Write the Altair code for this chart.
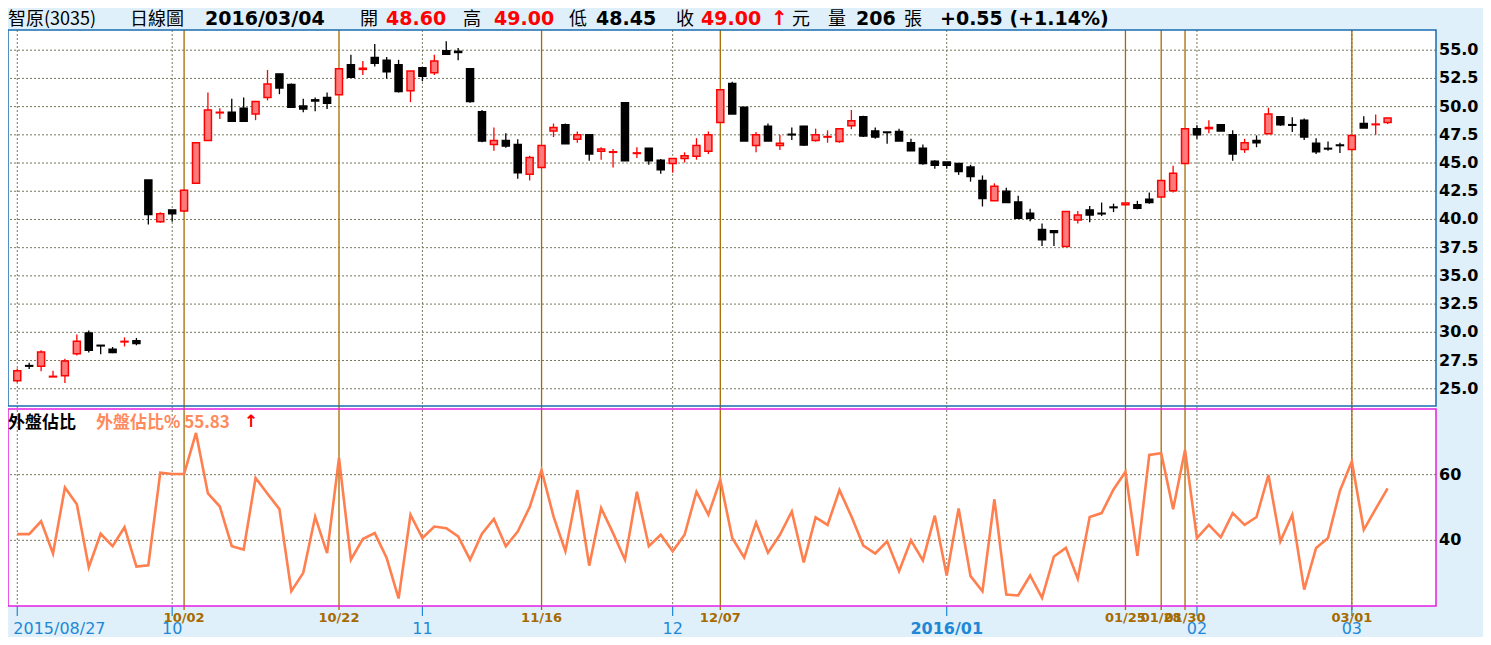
import altair as alt
import pandas as pd

# ---------------- data ----------------
opens = [25.70, 27.05, 27.00, 26.05, 26.15, 28.10, 29.95, 28.85, 28.50, 29.15,
         29.25, 43.50, 39.80, 40.85, 40.75, 43.20, 47.00, 49.45, 49.50, 49.85,
         49.35, 50.80, 52.90, 51.95, 50.05, 50.60, 50.80, 51.05, 53.70, 53.30,
         54.35, 54.10, 53.70, 51.40, 53.45, 53.00, 54.95, 54.90, 53.35, 49.55,
         46.65, 47.00, 46.65, 44.00, 44.60, 47.85, 48.40, 47.10, 47.50, 46.05,
         45.95, 50.35, 45.85, 46.30, 45.25, 44.95, 45.40, 45.60, 46.05, 48.60,
         52.05, 49.95, 46.55, 48.25, 46.55, 47.55, 48.25, 47.00, 47.30, 46.90,
         48.30, 49.10, 47.85, 47.75, 47.80, 46.80, 46.30, 45.15, 45.10, 44.95,
         44.65, 43.45, 41.65, 42.50, 41.55, 40.55, 39.10, 39.00, 37.60, 39.95,
         40.85, 40.55, 41.10, 41.30, 41.30, 41.80, 42.00, 42.55, 44.95, 48.05,
         48.05, 48.40, 47.50, 46.20, 47.00, 47.60, 49.10, 48.40, 48.80, 46.75,
         46.30, 46.60, 46.20, 48.50, 48.40, 48.60]
highs = [26.80, 27.30, 28.40, 26.60, 27.65, 29.80, 30.15, 28.85, 28.70, 29.55,
         29.50, 43.50, 40.65, 40.85, 42.65, 46.80, 51.25, 49.85, 50.70, 50.80,
         50.45, 53.25, 52.90, 52.05, 50.70, 50.80, 51.25, 53.35, 54.60, 54.05,
         55.55, 54.40, 54.15, 53.15, 53.45, 54.60, 55.80, 55.20, 53.35, 49.70,
         48.15, 47.65, 47.10, 45.65, 46.55, 48.50, 48.50, 47.80, 47.50, 46.40,
         46.25, 50.35, 46.40, 46.30, 45.35, 45.40, 45.95, 47.20, 47.80, 51.50,
         52.20, 49.95, 47.75, 48.50, 47.50, 48.15, 48.30, 48.05, 47.90, 48.05,
         49.70, 49.20, 48.15, 47.75, 48.05, 47.15, 46.65, 45.25, 45.10, 44.95,
         44.85, 43.90, 43.20, 42.80, 42.10, 40.95, 39.65, 39.00, 40.70, 40.75,
         41.20, 41.50, 41.40, 41.45, 41.65, 42.40, 43.45, 44.75, 48.05, 48.35,
         48.80, 48.40, 47.90, 47.15, 47.45, 49.90, 49.10, 49.05, 48.95, 47.20,
         46.90, 46.80, 47.45, 49.15, 49.30, 49.00]
lows = [25.55, 26.75, 26.55, 26.05, 25.50, 27.95, 28.20, 28.05, 28.15, 28.75,
        28.85, 39.55, 39.70, 39.80, 40.70, 43.20, 47.00, 48.90, 48.70, 48.70,
        48.80, 50.55, 51.10, 49.95, 49.50, 49.60, 49.80, 51.05, 52.60, 52.80,
        53.55, 52.50, 51.25, 50.40, 52.25, 52.80, 54.65, 54.10, 50.35, 46.85,
        46.10, 46.35, 43.60, 43.45, 44.60, 47.30, 46.70, 46.80, 45.20, 45.30,
        44.60, 45.20, 45.45, 44.85, 44.05, 44.15, 45.05, 45.30, 45.80, 48.60,
        49.35, 46.95, 45.95, 46.95, 46.15, 47.05, 46.50, 46.90, 46.80, 46.80,
        48.00, 47.30, 47.15, 46.70, 46.95, 46.10, 44.85, 44.50, 44.50, 43.95,
        43.35, 41.15, 41.65, 41.50, 40.10, 39.85, 37.65, 37.65, 37.60, 39.65,
        39.75, 40.30, 40.65, 41.30, 40.90, 41.40, 42.00, 42.40, 44.95, 47.15,
        47.65, 47.85, 45.20, 45.90, 46.40, 47.60, 48.30, 47.75, 47.05, 45.80,
        46.10, 45.90, 46.20, 48.10, 47.50, 48.45]
closes = [26.60, 27.00, 28.25, 26.10, 27.45, 29.20, 28.40, 28.80, 28.20, 29.20,
          29.00, 40.45, 40.50, 40.50, 42.60, 46.80, 49.70, 49.50, 48.70, 48.70,
          50.45, 52.00, 51.65, 49.95, 49.80, 50.50, 50.30, 53.35, 52.60, 53.40,
          53.85, 53.10, 51.35, 53.15, 52.70, 54.05, 54.65, 54.80, 50.45, 46.95,
          47.00, 46.50, 44.15, 45.50, 46.55, 48.15, 46.70, 47.50, 45.80, 46.25,
          46.00, 45.20, 45.90, 45.20, 44.40, 45.40, 45.65, 46.55, 47.50, 51.50,
          49.35, 46.95, 47.50, 46.95, 46.75, 47.50, 46.60, 47.50, 47.35, 48.05,
          48.75, 47.40, 47.30, 47.70, 46.95, 46.10, 44.95, 44.80, 44.80, 44.25,
          43.80, 41.85, 42.95, 41.50, 40.10, 40.10, 38.20, 38.85, 40.70, 40.40,
          40.40, 40.50, 41.05, 41.45, 41.00, 41.50, 43.45, 44.10, 48.05, 47.50,
          48.15, 47.85, 45.80, 46.80, 46.80, 49.35, 48.40, 48.35, 47.30, 46.00,
          46.25, 46.55, 47.45, 48.10, 48.45, 49.00]
outer_ratio = [41.9, 41.9, 45.8, 36.0, 56.1, 51.0, 31.8, 42.0, 38.2, 44.0,
               32.0, 32.4, 60.6, 60.2, 60.2, 72.7, 54.3, 50.3, 38.2, 37.2,
               59.0, 54.2, 49.5, 24.5, 30.1, 47.2, 36.1, 65.1, 34.1, 40.4,
               42.2, 34.6, 22.3, 47.8, 40.7, 44.2, 43.7, 41.2, 34.1, 42.0,
               46.5, 38.2, 42.7, 50.1, 61.4, 47.3, 36.7, 55.3, 32.3, 49.8,
               42.2, 34.1, 54.8, 38.2, 41.7, 36.7, 41.7, 54.8, 47.8, 58.4,
               40.7, 34.8, 45.4, 36.2, 41.7, 48.8, 33.3, 47.0, 44.7, 55.3,
               47.3, 38.4, 36.0, 39.7, 30.6, 40.0, 33.9, 47.5, 29.3, 49.7,
               29.1, 24.5, 52.5, 23.5, 23.2, 29.3, 22.5, 35.1, 37.7, 28.3,
               47.1, 48.3, 55.5, 60.9, 35.3, 66.0, 66.5, 49.5, 67.5, 40.7,
               44.7, 40.9, 48.3, 44.7, 47.1, 59.9, 39.7, 47.8, 25.0, 37.7,
               40.7, 55.1, 64.0, 43.2, 49.6, 55.83]

month_idx = [0, 13, 34, 55, 78, 99, 112]
month_lbl = ["2015/08/27", "10", "11", "12", "2016/01", "02", "03"]
event_idx = [14, 27, 44, 59, 93, 96, 98, 112]
event_lbl = ["10/02", "10/22", "11/16", "12/07", "01/25", "01/28", "01/30", "03/01"]
price_ticks = [25.0, 27.5, 30.0, 32.5, 35.0, 37.5, 40.0, 42.5, 45.0, 47.5, 50.0, 52.5, 55.0]
ratio_ticks = [40, 60]

title_parts = ["智原(3035)", "日線圖", "2016/03/04", "開", "48.60", "高", "49.00", "低",
               "48.45", "收", "49.00", "↑", "元", "量", "206", "張", "+0.55 (+1.14%)"]

# ---------------- layout / style ----------------
W, H = 1428, 576
UP_TOP, UP_BOT = 0, 376
LO_TOP, LO_BOT = 379, 576
BG = "#dff0fa"
BLUE_FRAME = "#1a6cb0"
MAGENTA = "#e41ee4"
BROWN = "#a66a00"
GRID = "#77775e"
MONTH_BLUE = "#1e88d6"
RED = "#ff0000"
PINK = "#ff7b7b"
CORAL = "#ff7f4f"
CJK = "Noto Sans CJK TC"
LAT = "DejaVu Sans"

# title styling: (x, color, weight, font, size)
title_style = [
    (0, "black", "normal", CJK, 18), (122, "black", "normal", CJK, 18),
    (197, "black", "bold", LAT, 19), (352, "black", "normal", CJK, 18),
    (378, RED, "bold", LAT, 19), (455, "black", "normal", CJK, 18),
    (486, RED, "bold", LAT, 19), (561, "black", "normal", CJK, 18),
    (588, "black", "bold", LAT, 19), (668, "black", "normal", CJK, 18),
    (693, RED, "bold", LAT, 19), (763, RED, "bold", LAT, 20),
    (784, "black", "normal", CJK, 18), (820, "black", "normal", CJK, 18),
    (848, "black", "bold", LAT, 19), (896, "black", "normal", CJK, 18),
    (932, "black", "bold", LAT, 19),
]

n = len(opens)
df = pd.DataFrame({"i": list(range(n)), "open": opens, "high": highs,
                   "low": lows, "close": closes})
df["dir"] = ["up" if c > o else "down" for o, c in zip(opens, closes)]
rdf = pd.DataFrame({"i": list(range(n)), "r": outer_ratio})
mdf = pd.DataFrame({"i": month_idx, "lbl": month_lbl})
edf = pd.DataFrame({"i": event_idx, "lbl": event_lbl})
pdf = pd.DataFrame({"p": price_ticks})
qdf = pd.DataFrame({"q": ratio_ticks})
one = pd.DataFrame({"a": [0]})

xs = alt.Scale(domain=[-0.358, 118.642], nice=False, zero=False)
ys_up = alt.Scale(domain=[23.47, 56.79], range=[UP_BOT, UP_TOP], nice=False, zero=False)
ys_lo = alt.Scale(domain=[20, 80], range=[LO_BOT, LO_TOP], nice=False, zero=False)
X = alt.X("i:Q", scale=xs, axis=None)
dir_color = alt.Scale(domain=["up", "down"], range=[RED, "#000000"])
dir_fill = alt.Scale(domain=["up", "down"], range=[PINK, "#000000"])

layers = []

# grids
layers.append(alt.Chart(pdf).mark_rule(color=GRID, strokeDash=[2, 2], strokeWidth=1).encode(
    y=alt.Y("p:Q", scale=ys_up, axis=None)))
layers.append(alt.Chart(qdf).mark_rule(color=GRID, strokeDash=[2, 2], strokeWidth=1).encode(
    y=alt.Y("q:Q", scale=ys_lo, axis=None)))
layers.append(alt.Chart(mdf).mark_rule(color=GRID, strokeDash=[2, 2], strokeWidth=1).encode(
    x=X, y=alt.value(UP_TOP), y2=alt.value(LO_BOT)))

# event lines
layers.append(alt.Chart(edf).mark_rule(color=BROWN, strokeWidth=1.3).encode(
    x=X, y=alt.value(0), y2=alt.value(LO_BOT + 4)))

# month ticks
layers.append(alt.Chart(mdf).mark_rule(color=MONTH_BLUE, strokeWidth=1.2).encode(
    x=X, y=alt.value(LO_BOT), y2=alt.value(LO_BOT + 10)))

# frames
layers.append(alt.Chart(one).mark_rect(fill="transparent", stroke=BLUE_FRAME, strokeWidth=1.5).encode(
    x=alt.value(0), x2=alt.value(W), y=alt.value(UP_TOP), y2=alt.value(UP_BOT)))
layers.append(alt.Chart(one).mark_rect(fill="transparent", stroke=MAGENTA, strokeWidth=1.5).encode(
    x=alt.value(0), x2=alt.value(W), y=alt.value(LO_TOP), y2=alt.value(LO_BOT)))

# candles
layers.append(alt.Chart(df).mark_rule(strokeWidth=1.3).encode(
    x=X, y=alt.Y("low:Q", scale=ys_up, axis=None), y2="high:Q",
    color=alt.Color("dir:N", scale=dir_color, legend=None)))
layers.append(alt.Chart(df).mark_bar(width=7, strokeWidth=1.5).encode(
    x=X, y=alt.Y("open:Q", scale=ys_up, axis=None), y2="close:Q",
    fill=alt.Fill("dir:N", scale=dir_fill, legend=None),
    stroke=alt.Stroke("dir:N", scale=dir_color, legend=None)))

# outer-ratio line
layers.append(alt.Chart(rdf).mark_line(color=CORAL, strokeWidth=2.6).encode(
    x=X, y=alt.Y("r:Q", scale=ys_lo, axis=None)))

# right axis labels
layers.append(alt.Chart(pdf).mark_text(align="left", baseline="middle", font=LAT,
                                       fontWeight="bold", fontSize=16, color="black").encode(
    x=alt.value(W + 3), y=alt.Y("p:Q", scale=ys_up, axis=None),
    text=alt.Text("p:Q", format=".1f")))
layers.append(alt.Chart(qdf).mark_text(align="left", baseline="middle", font=LAT,
                                       fontWeight="bold", fontSize=16, color="black").encode(
    x=alt.value(W + 3), y=alt.Y("q:Q", scale=ys_lo, axis=None),
    text=alt.Text("q:Q", format="d")))

# bottom labels: months
first = mdf.iloc[[0]]
bold_m = mdf[mdf["lbl"].str.startswith("2016")]
rest_m = mdf.iloc[1:][~mdf.iloc[1:]["lbl"].str.startswith("2016")]
layers.append(alt.Chart(first).mark_text(align="left", baseline="alphabetic", dx=-4, font=LAT,
                                         fontSize=16, color=MONTH_BLUE).encode(
    x=X, y=alt.value(H + 28), text="lbl:N"))
layers.append(alt.Chart(rest_m).mark_text(align="center", baseline="alphabetic", font=LAT,
                                          fontSize=16, color=MONTH_BLUE).encode(
    x=X, y=alt.value(H + 28), text="lbl:N"))
layers.append(alt.Chart(bold_m).mark_text(align="center", baseline="alphabetic", font=LAT,
                                          fontSize=16, fontWeight="bold", color=MONTH_BLUE).encode(
    x=X, y=alt.value(H + 28), text="lbl:N"))
# bottom labels: events
layers.append(alt.Chart(edf).mark_text(align="center", baseline="alphabetic", font=LAT,
                                       fontSize=13, fontWeight="bold", color=BROWN).encode(
    x=X, y=alt.value(H + 16), text="lbl:N"))

# lower panel captions
layers.append(alt.Chart(one).mark_text(align="left", baseline="alphabetic", font=CJK, fontSize=17,
                                       fontWeight="bold", color="black", text="外盤佔比").encode(
    x=alt.value(0), y=alt.value(LO_TOP + 19)))
layers.append(alt.Chart(one).mark_text(align="left", baseline="alphabetic", font=CJK, fontSize=17,
                                       fontWeight="bold", color="#ff8a5c",
                                       text="外盤佔比% " + f"{outer_ratio[-1]:.2f}").encode(
    x=alt.value(88), y=alt.value(LO_TOP + 19)))
layers.append(alt.Chart(one).mark_text(align="left", baseline="alphabetic", font=LAT, fontSize=17,
                                       fontWeight="bold", color=RED, text="↑").encode(
    x=alt.value(236), y=alt.value(LO_TOP + 18)))

# title bar
for txt, (tx, col, wt, fnt, fs) in zip(title_parts, title_style):
    layers.append(alt.Chart(one).mark_text(align="left", baseline="alphabetic", font=fnt,
                                           fontSize=fs, fontWeight=wt, color=col, text=txt).encode(
        x=alt.value(tx), y=alt.value(-5)))

chart = alt.layer(*layers).resolve_scale(y="independent").properties(
    width=W, height=H, background=BG,
    padding={"left": 0, "top": 22, "right": 47, "bottom": 31},
    autosize=alt.AutoSizeParams(type="none"),
).configure_view(fill="white", stroke=None)

chart.save("out.html", embed_options={"renderer": "svg", "actions": False})
